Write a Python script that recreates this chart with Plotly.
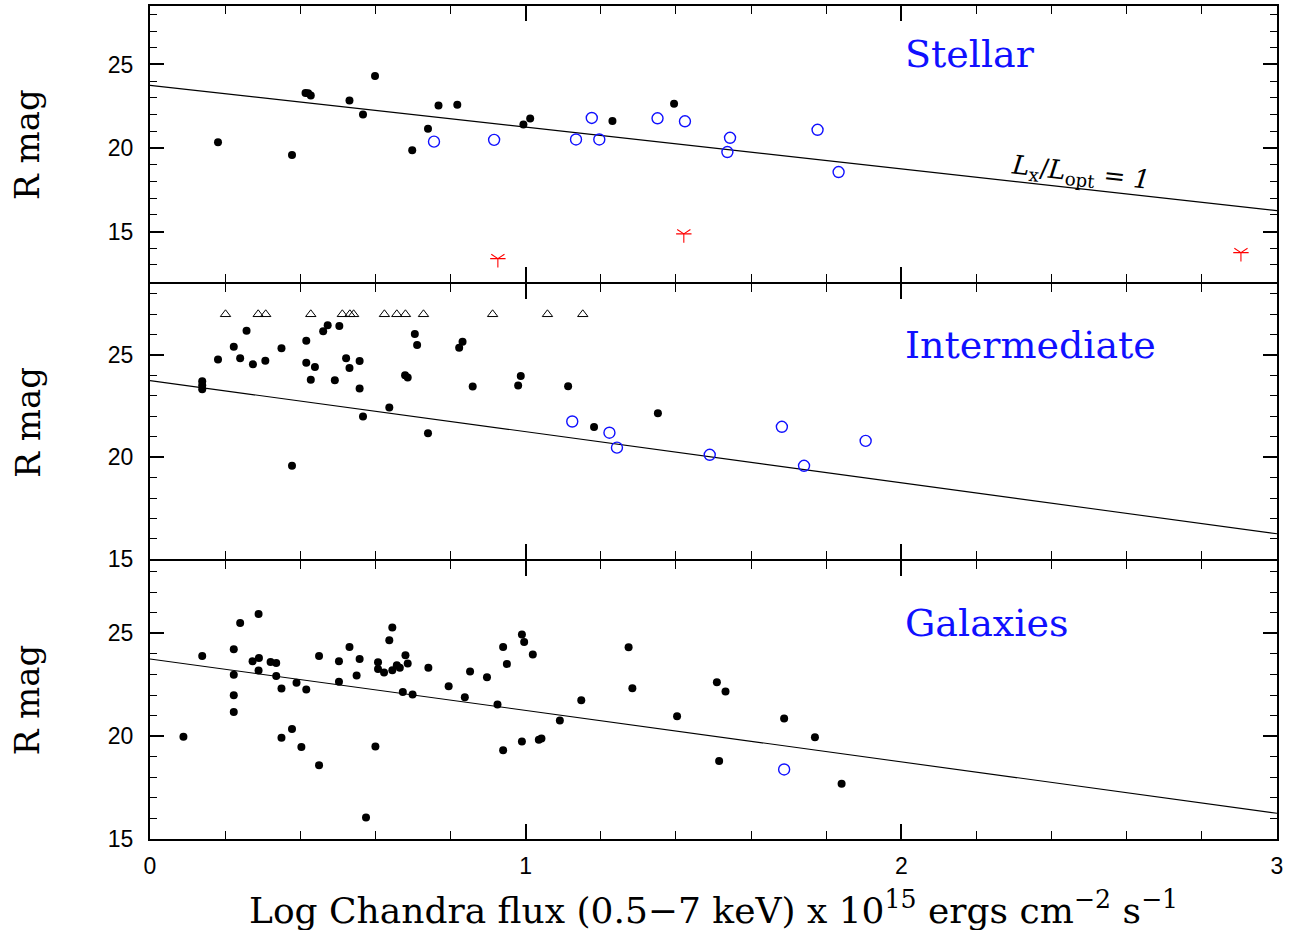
import plotly.graph_objects as go

# ---------------- data (x = log Chandra flux, R = R magnitude) ----------------
stellar_dot_x = [0.181, 0.378, 0.414, 0.421, 0.428, 0.531, 0.567, 0.599, 0.698, 0.740,
                 0.768, 0.818, 0.994, 1.012, 1.231, 1.395]
stellar_dot_R = [20.35, 19.58, 23.30, 23.28, 23.14, 22.84, 22.00, 24.31, 19.86, 21.15,
                 22.55, 22.59, 21.40, 21.76, 21.62, 22.65]
stellar_circ_x = [0.756, 0.916, 1.134, 1.176, 1.196, 1.351, 1.424, 1.544, 1.537, 1.777, 1.833]
stellar_circ_R = [20.38, 20.49, 20.51, 21.80, 20.51, 21.78, 21.60, 20.61, 19.76, 21.09, 18.56]
stellar_star_x = [0.926, 1.421, 2.904]
stellar_star_R = [13.38, 14.86, 13.74]

inter_dot_x = [0.139, 0.139, 0.139, 0.181, 0.223, 0.240, 0.257, 0.274, 0.307, 0.350,
               0.378, 0.416, 0.416, 0.439, 0.428, 0.461, 0.473, 0.492, 0.504, 0.522,
               0.531, 0.558, 0.558, 0.567, 0.637, 0.679, 0.686, 0.705, 0.711, 0.740,
               0.823, 0.832, 0.859, 0.980, 0.987, 1.113, 1.182, 1.352]
inter_dot_R = [23.72, 23.53, 23.33, 24.79, 25.41, 24.85, 26.20, 24.55, 24.73, 25.34,
               19.58, 25.71, 24.63, 24.42, 23.79, 26.17, 26.46, 23.77, 26.43, 24.85,
               24.37, 24.71, 23.37, 21.99, 22.43, 24.01, 23.90, 26.04, 25.50, 21.17,
               25.36, 25.65, 23.47, 23.51, 23.98, 23.48, 21.48, 22.16]
inter_circ_x = [1.124, 1.223, 1.243, 1.490, 1.682, 1.741, 1.905]
inter_circ_R = [21.75, 21.20, 20.47, 20.12, 21.49, 19.58, 20.80]
inter_tri_x = [0.201, 0.288, 0.308, 0.428, 0.512, 0.532, 0.542, 0.624, 0.657, 0.680,
               0.728, 0.912, 1.058, 1.152]
inter_tri_R = [27.0, 27.0, 27.0, 27.0, 27.0, 27.0, 27.0, 27.0, 27.0, 27.0,
               27.0, 27.0, 27.0, 27.0]

gal_dot_x = [0.089, 0.139, 0.223, 0.223, 0.223, 0.223, 0.240, 0.273, 0.290, 0.289,
             0.289, 0.321, 0.336, 0.336, 0.350, 0.350, 0.378, 0.390, 0.403, 0.416,
             0.450, 0.450, 0.503, 0.503, 0.531, 0.550, 0.558, 0.575, 0.600, 0.607,
             0.607, 0.623, 0.637, 0.645, 0.645, 0.657, 0.665, 0.680, 0.686, 0.673,
             0.699, 0.741, 0.795, 0.838, 0.852, 0.897, 0.925, 0.940, 0.950, 0.940,
             0.990, 0.996, 1.019, 0.990, 1.035, 1.042, 1.091, 1.148, 1.274, 1.284,
             1.403, 1.509, 1.532, 1.515, 1.688, 1.770, 1.841]
gal_dot_R = [19.97, 23.90, 24.22, 22.98, 21.99, 21.18, 25.50, 23.64, 23.80, 25.94,
             23.19, 23.61, 23.56, 22.93, 22.32, 19.92, 20.35, 22.60, 19.47, 22.27,
             23.90, 18.59, 23.64, 22.64, 24.34, 22.95, 23.75, 16.05, 19.50, 23.59,
             23.27, 23.09, 24.66, 25.28, 23.20, 23.45, 23.33, 23.93, 23.53, 22.15,
             22.02, 23.32, 22.43, 21.89, 23.14, 22.86, 21.54, 24.34, 23.51, 19.31,
             24.94, 24.58, 23.97, 19.74, 19.82, 19.89, 20.76, 21.75, 24.32, 22.33,
             20.97, 22.62, 22.17, 18.79, 20.86, 19.95, 17.68]
gal_circ_x = [1.688]
gal_circ_R = [18.38]

# Lx/Lopt = 1 reference line
ratio_line_x = [0.0, 3.0]
ratio_line_R = [23.75, 16.25]

panel_names = ["Stellar", "Intermediate", "Galaxies"]
x_tick_vals = [0, 1, 2, 3]
y_tick_vals = [15, 20, 25]

# ---------------- figure ----------------
BLUE = "#1010ff"
fig = go.Figure()

def dots(x, y, ax):
    fig.add_trace(go.Scatter(x=x, y=y, mode="markers", xaxis=ax[0], yaxis=ax[1],
                             marker=dict(symbol="circle", size=8, color="black",
                                         line=dict(width=0)), showlegend=False))

def circs(x, y, ax):
    fig.add_trace(go.Scatter(x=x, y=y, mode="markers", xaxis=ax[0], yaxis=ax[1],
                             marker=dict(symbol="circle-open", size=11, color=BLUE,
                                         line=dict(width=1.4, color=BLUE)), showlegend=False))

def refline(ax):
    fig.add_trace(go.Scatter(x=ratio_line_x, y=ratio_line_R, mode="lines", xaxis=ax[0], yaxis=ax[1],
                             line=dict(color="black", width=1.1), showlegend=False))

top = ("x", "y")
mid = ("x2", "y2")
bot = ("x3", "y3")

# top panel
refline(top)
dots(stellar_dot_x, stellar_dot_R, top)
circs(stellar_circ_x, stellar_circ_R, top)
fig.add_trace(go.Scatter(x=stellar_star_x, y=stellar_star_R, mode="markers", xaxis="x", yaxis="y",
                         marker=dict(symbol="y-down-open", size=11, color="red",
                                     line=dict(width=1.1, color="red")), showlegend=False))
fig.add_trace(go.Scatter(x=stellar_star_x, y=stellar_star_R, mode="markers", xaxis="x", yaxis="y",
                         marker=dict(symbol="line-ew-open", size=11, color="red",
                                     line=dict(width=1.1, color="red")), showlegend=False))
# middle panel
refline(mid)
dots(inter_dot_x, inter_dot_R, mid)
circs(inter_circ_x, inter_circ_R, mid)
fig.add_trace(go.Scatter(x=inter_tri_x, y=inter_tri_R, mode="markers", xaxis="x2", yaxis="y2",
                         marker=dict(symbol="triangle-up-open", size=9, color="black",
                                     line=dict(width=1, color="black")), showlegend=False))
# bottom panel
refline(bot)
dots(gal_dot_x, gal_dot_R, bot)
circs(gal_circ_x, gal_circ_R, bot)

tickfont = dict(family="Liberation Sans, Arial, sans-serif", size=23, color="black")
LW = 2

def xaxis(anchor, labels):
    return dict(range=[0, 3], domain=[0, 1], anchor=anchor, showgrid=False, zeroline=False,
                showline=True, linecolor="black", linewidth=LW, mirror="allticks",
                ticks="inside", ticklen=15, tickwidth=1.5, tickcolor="black",
                tickvals=x_tick_vals, showticklabels=labels, tickfont=tickfont,
                ticklabelstandoff=5,
                minor=dict(dtick=0.2, tick0=0, ticks="inside", ticklen=8, tickwidth=1.2,
                           tickcolor="black", showgrid=False))

def yaxis(anchor, rng, dom):
    return dict(range=rng, domain=dom, anchor=anchor, showgrid=False, zeroline=False,
                showline=True, linecolor="black", linewidth=LW, mirror="allticks",
                ticks="inside", ticklen=14, tickwidth=1.5, tickcolor="black",
                tickvals=y_tick_vals, tickfont=tickfont, ticklabelstandoff=10,
                minor=dict(dtick=1, tick0=0, ticks="inside", ticklen=7, tickwidth=1.2,
                           tickcolor="black", showgrid=False))

H, T, B = 930, 4, 91
plot_h = H - T - B
d = LW / plot_h           # lets shared panel borders coincide
third = 1 / 3
fig.update_layout(
    width=1291, height=H,
    margin=dict(l=150, r=14, t=T, b=B),
    paper_bgcolor="white", plot_bgcolor="white",
    showlegend=False,
    xaxis=xaxis("y", False),
    xaxis2=xaxis("y2", False),
    xaxis3=xaxis("y3", True),
    yaxis=yaxis("x", [12, 28.5], [2 * third + d, 1]),
    yaxis2=yaxis("x2", [15, 28.5], [third + d, 2 * third]),
    yaxis3=yaxis("x3", [15, 28.5], [0, third]),
)

serif = "DejaVu Serif, Liberation Serif, serif"
# panel titles
for name, xref, yref, yv in zip(panel_names, ["x", "x2", "x3"], ["y", "y2", "y3"], [25.6, 25.5, 25.5]):
    fig.add_annotation(text=name, x=2.004, y=yv, xref=xref, yref=yref,
                       xanchor="left", yanchor="middle", showarrow=False,
                       font=dict(family=serif, size=38, color=BLUE))

# y axis titles
for ypaper in [5 / 6, 0.5, 1 / 6]:
    fig.add_annotation(text="R mag", x=-0.109, y=ypaper, xref="paper", yref="paper",
                       xanchor="center", yanchor="middle", textangle=-90, showarrow=False,
                       font=dict(family=serif, size=34, color="black"))

# x axis title
fig.add_annotation(text="Log Chandra flux (0.5\u22127 keV) x 10<sup>15</sup> ergs cm<sup>\u22122</sup> s<sup>\u22121</sup>",
                   x=0.5, y=-0.0826, xref="paper", yref="paper", xanchor="center", yanchor="middle",
                   showarrow=False, font=dict(family=serif, size=36, color="black"))

# Lx/Lopt label
fig.add_annotation(text="<i>L</i><sub>x</sub>/<i>L</i><sub>opt</sub> = <i>1</i>",
                   x=2.476, y=18.5, xref="x", yref="y", xanchor="center", yanchor="middle",
                   textangle=6.4, showarrow=False,
                   font=dict(family=serif, size=26, color="black"))

fig.write_html("out.html", config={"displayModeBar": False},
               post_script="document.body.style.margin='0';")
